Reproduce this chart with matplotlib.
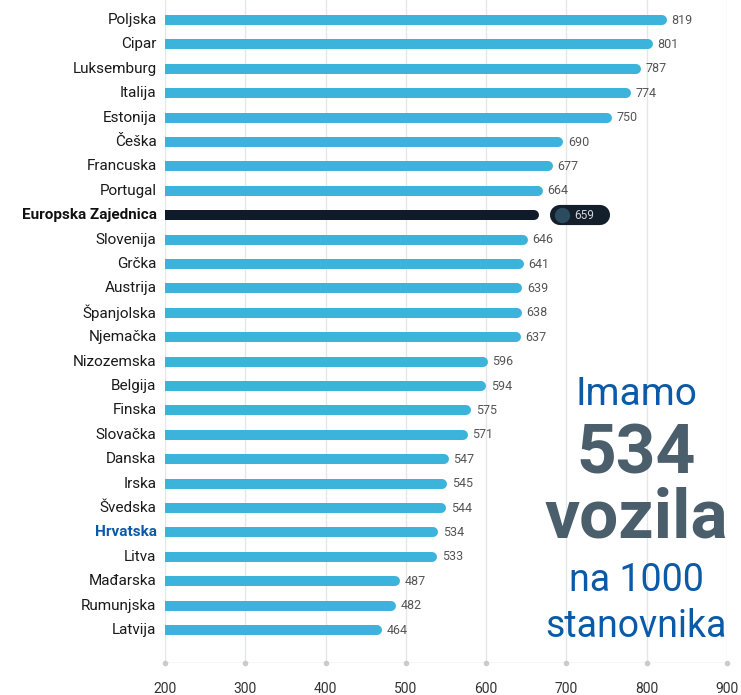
import matplotlib.pyplot as plt

# Data: passenger cars per 1000 inhabitants
countries = ["Poljska", "Cipar", "Luksemburg", "Italija", "Estonija", "Češka",
             "Francuska", "Portugal", "Europska Zajednica", "Slovenija", "Grčka",
             "Austrija", "Španjolska", "Njemačka", "Nizozemska", "Belgija",
             "Finska", "Slovačka", "Danska", "Irska", "Švedska", "Hrvatska",
             "Litva", "Mađarska", "Rumunjska", "Latvija"]
values = [819, 801, 787, 774, 750, 690, 677, 664, 659, 646, 641, 639, 638,
          637, 596, 594, 575, 571, 547, 545, 544, 534, 533, 487, 482, 464]
x_ticks = [200, 300, 400, 500, 600, 700, 800, 900]
eu_name = "Europska Zajednica"
hr_name = "Hrvatska"

bar_color = "#3bb3da"
eu_color = "#0f1b2b"
blue = "#0b5aa8"
slate = "#4a5e6b"

font = ["Roboto", "DejaVu Sans"]

fig = plt.figure(figsize=(7.41, 6.95), dpi=100)
ax = fig.add_axes([165 / 741, 1 - 663 / 695, 562 / 741, 663 / 695])

ax.set_xlim(200, 900)
ax.set_ylim(len(countries) - 1 + 1.35, -0.82)

# vertical grid lines
for t in x_ticks:
    ax.axvline(t, color="#e4e6e8", lw=1, zorder=0)

for i, (c, v) in enumerate(zip(countries, values)):
    col = eu_color if c == eu_name else bar_color
    ax.hlines(i, 200, v, color=col, lw=7.2, capstyle="round", zorder=2)
    if c == eu_name:
        # pill shaped value badge
        ax.hlines(i, 692, 742, color="#141f2c", lw=14.5, capstyle="round", zorder=3)
        ax.plot([695], [i], "o", ms=11, color="#2c4b5f", mec="none", zorder=4)
        ax.text(722, i, str(v), ha="center", va="center", fontsize=8.5,
                color="#d0d6dc", family=font, zorder=5)
    else:
        ax.text(v + 12, i, str(v), ha="left", va="center", fontsize=9,
                color="#555555", family=font)

    # country labels
    if c == eu_name:
        kw = dict(color="#111111", fontweight="bold")
    elif c == hr_name:
        kw = dict(color=blue, fontweight="bold")
    else:
        kw = dict(color="#1a1a1a")
    ax.text(-0.015, i, c, transform=ax.get_yaxis_transform(), ha="right",
            va="center", fontsize=11, family=font, **kw)

# bottom axis with dots
ax.axhline(ax.get_ylim()[0], color="#d5d8db", lw=1, zorder=1)
ax.plot(x_ticks, [ax.get_ylim()[0]] * len(x_ticks), "o", ms=3,
        color="#c8ccd0", clip_on=False, zorder=2)

ax.set_xticks(x_ticks)
ax.set_xticklabels([str(t) for t in x_ticks], family=font, fontsize=10,
                   color="#333333")
ax.tick_params(axis="x", length=0, pad=14)
ax.set_yticks([])
for s in ax.spines.values():
    s.set_visible(False)

# big annotation text
cx = 636 / 741
fig.text(cx, 1 - 405 / 695, "Imamo", ha="center", va="baseline", fontsize=28,
         color=blue, family=font)
fig.text(cx, 1 - 474 / 695, "534", ha="center", va="baseline", fontsize=50,
         color=slate, fontweight="bold", family=font)
fig.text(cx, 1 - 538 / 695, "vozila", ha="center", va="baseline", fontsize=50,
         color=slate, fontweight="bold", family=font)
fig.text(cx, 1 - 591 / 695, "na 1000", ha="center", va="baseline", fontsize=27,
         color=blue, family=font)
fig.text(cx, 1 - 637 / 695, "stanovnika", ha="center", va="baseline", fontsize=27,
         color=blue, family=font)

plt.savefig("out.png", dpi=100)
plt.close()
